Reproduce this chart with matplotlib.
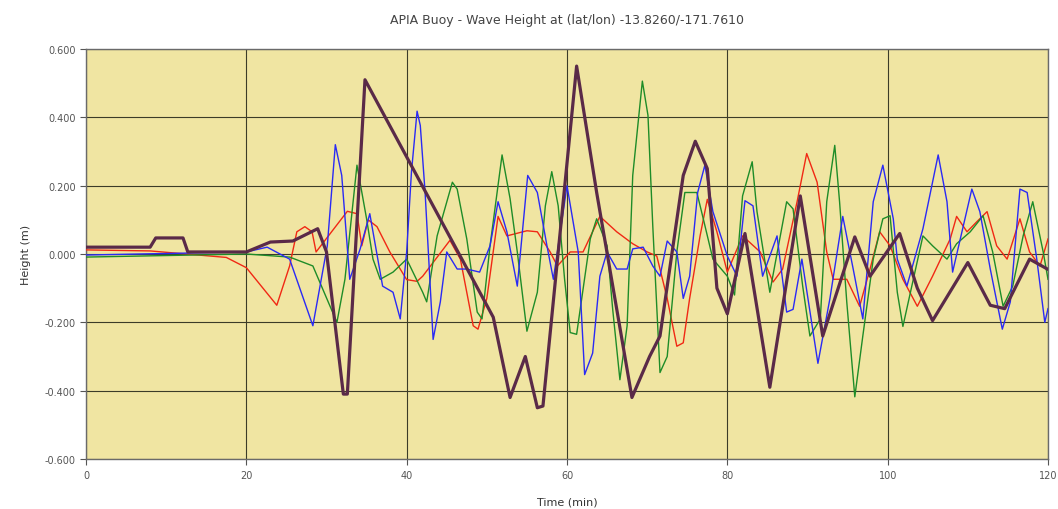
import matplotlib
matplotlib.use("Agg")
import matplotlib.pyplot as plt
from matplotlib.ticker import FormatStrFormatter

title = "APIA Buoy - Wave Height at (lat/lon) -13.8260/-171.7610"
x_label = "Time (min)"
y_label = "Height (m)"
x_ticks = [0, 20, 40, 60, 80, 100, 120]
y_ticks = [-0.6, -0.4, -0.2, 0.0, 0.2, 0.4, 0.6]

purple_t = [0, 8.0, 8.7, 12.1, 12.7, 20, 23, 25.8, 28.9, 30, 32.1, 32.6, 34.8, 50.8, 52.9, 54.8,
            56.3, 57.0, 61.2, 63.7, 68.1, 70.3, 71.6, 74.5, 76.0, 77.5, 78.7, 80.0, 82.2, 85.3,
            89.1, 91.9, 95.9, 97.8, 99.9, 101.5, 103.7, 105.6, 107.8, 110.0, 112.8, 114.6, 117.7, 120]
purple_h = [0.02, 0.02, 0.047, 0.047, 0.006, 0.006, 0.035, 0.038, 0.074, 0.006, -0.41, -0.41, 0.51,
            -0.185, -0.42, -0.30, -0.45, -0.445, 0.55, 0.18, -0.42, -0.30, -0.24, 0.23, 0.33, 0.25,
            -0.10, -0.175, 0.06, -0.39, 0.17, -0.24, 0.05, -0.065, 0.006, 0.06, -0.10, -0.195, -0.11,
            -0.025, -0.15, -0.16, -0.015, -0.045]

red_t = [0, 8, 17.5, 20, 23.8, 25.4, 26.3, 27.3, 28.2, 28.7, 32.6, 33.8, 34.4, 35.2, 36.3, 37.9,
         40.0, 41.3, 42.0, 45.4, 46.7, 48.3, 48.9, 50.0, 51.4, 52.5, 55.0, 56.3, 57.9, 58.8, 60.4,
         62.0, 64.1, 66.2, 68.2, 70.0, 71.2, 72.5, 73.7, 74.5, 75.3, 76.6, 77.5, 78.7, 80.0, 81.9,
         84.1, 85.7, 86.9, 88.7, 89.9, 91.2, 92.4, 93.2, 94.9, 96.5, 97.8, 99.0, 100.3, 101.9,
         103.7, 105.6, 107.8, 108.6, 109.9, 111.1, 112.4, 113.6, 114.9, 116.5, 117.7, 119.0, 120]
red_h = [0.012, 0.009, -0.01, -0.04, -0.15, -0.035, 0.065, 0.08, 0.065, 0.006, 0.125, 0.118, 0.024,
         0.10, 0.08, 0.006, -0.075, -0.08, -0.065, 0.04, -0.015, -0.21, -0.22, -0.13, 0.11, 0.053,
         0.068, 0.065, 0.006, -0.035, 0.006, 0.006, 0.11, 0.065, 0.03, 0.006, -0.006, -0.13, -0.27,
         -0.26, -0.13, 0.053, 0.16, 0.065, -0.053, 0.053, 0.006, -0.082, -0.044, 0.153, 0.294, 0.21,
         0.006, -0.074, -0.074, -0.153, -0.044, 0.065, 0.024, -0.074, -0.153, -0.065, 0.044, 0.11,
         0.065, 0.094, 0.124, 0.024, -0.015, 0.103, 0.006, -0.035, 0.044]

blue_t = [0, 20, 22.6, 25.4, 28.3, 30.1, 31.1, 31.9, 32.9, 34.2, 35.4, 36.4, 37.0, 38.3, 39.2, 40.0,
          40.6, 41.3, 41.7, 42.3, 43.3, 44.2, 45.0, 46.3, 47.5, 49.1, 50.4, 51.4, 52.5, 53.8, 55.1,
          56.3, 57.5, 58.3, 60.0, 60.7, 61.4, 62.2, 63.2, 64.1, 65.0, 66.2, 67.5, 68.2, 69.5, 70.7,
          71.6, 72.5, 73.7, 74.5, 75.3, 76.3, 77.2, 78.2, 80.0, 81.2, 82.2, 83.2, 84.4, 86.2, 87.4,
          88.2, 89.3, 91.3, 92.8, 94.4, 95.7, 96.9, 98.2, 99.4, 100.7, 101.2, 102.4, 104.4, 106.3,
          107.4, 108.1, 110.5, 111.5, 112.8, 114.3, 115.3, 116.5, 117.4, 118.6, 119.6, 120]
blue_h = [-0.003, 0.006, 0.02, -0.015, -0.21, 0.024, 0.32, 0.23, -0.074, 0.015, 0.118, -0.015,
          -0.094, -0.112, -0.19, 0.006, 0.241, 0.418, 0.376, 0.18, -0.25, -0.14, 0.006, -0.044,
          -0.044, -0.053, 0.024, 0.153, 0.065, -0.094, 0.23, 0.18, 0.024, -0.074, 0.2, 0.103, 0.006,
          -0.353, -0.29, -0.065, 0.006, -0.044, -0.044, 0.015, 0.02, -0.035, -0.065, 0.038, 0.006,
          -0.13, -0.065, 0.18, 0.26, 0.124, -0.006, -0.065, 0.156, 0.141, -0.065, 0.053, -0.17,
          -0.162, -0.015, -0.32, -0.13, 0.11, -0.044, -0.19, 0.153, 0.26, 0.103, -0.015, -0.094,
          0.074, 0.29, 0.153, -0.053, 0.19, 0.124, -0.044, -0.22, -0.14, 0.19, 0.18, -0.015, -0.2,
          -0.16]

green_t = [0, 20, 25.4, 28.3, 31.3, 32.3, 33.8, 35.0, 35.8, 36.7, 38.3, 40.0, 42.0, 42.5, 43.8,
           45.7, 46.3, 47.5, 48.8, 49.4, 50.4, 51.9, 52.9, 53.8, 55.0, 56.3, 57.3, 58.1, 58.9, 59.7,
           60.4, 61.2, 62.9, 63.7, 65.0, 65.7, 66.6, 67.5, 68.2, 69.4, 70.1, 70.7, 71.6, 72.5, 73.7,
           74.7, 76.2, 77.0, 78.2, 80.0, 80.9, 81.9, 83.1, 83.7, 85.3, 87.4, 88.2, 89.4, 90.3, 91.6,
           92.4, 93.4, 94.0, 94.9, 95.9, 96.9, 98.2, 99.4, 100.3, 101.2, 101.9, 103.2, 104.4, 105.6,
           107.4, 108.6, 110.3, 111.9, 113.1, 114.4, 115.6, 116.9, 118.1, 119.4, 120]
green_h = [-0.009, 0.0, -0.009, -0.035, -0.2, -0.074, 0.26, 0.103, -0.015, -0.074, -0.053, -0.015,
           -0.112, -0.14, 0.053, 0.21, 0.19, 0.044, -0.17, -0.19, 0.024, 0.29, 0.162, 0.006, -0.226,
           -0.112, 0.141, 0.241, 0.141, -0.074, -0.23, -0.235, 0.044, 0.103, 0.024, -0.162, -0.368,
           -0.21, 0.23, 0.506, 0.406, 0.082, -0.347, -0.3, 0.006, 0.18, 0.18, 0.103, -0.015, -0.065,
           -0.12, 0.17, 0.27, 0.124, -0.112, 0.153, 0.132, -0.094, -0.24, -0.19, 0.153, 0.318, 0.153,
           -0.141, -0.418, -0.24, -0.015, 0.103, 0.112, -0.112, -0.212, -0.074, 0.053, 0.024, -0.015,
           0.03, 0.065, 0.112, 0.006, -0.153, -0.094, 0.053, 0.153, 0.006, -0.074]

fig = plt.figure(figsize=(10.58, 5.10), dpi=100)
ax = fig.add_axes([86 / 1058, 1 - 460 / 510, (1048 - 86) / 1058, (460 - 50) / 510])
ax.set_facecolor("#F0E5A2")

ax.plot(red_t, red_h, color="#F02814", lw=1.0, zorder=3)
ax.plot(green_t, green_h, color="#1E8C28", lw=1.0, zorder=3)
ax.plot(blue_t, blue_h, color="#2A2AF5", lw=1.0, zorder=4)
ax.plot(purple_t, purple_h, color="#5A2A48", lw=2.3, zorder=5)

ax.set_xlim(0, 120)
ax.set_ylim(-0.6, 0.6)
ax.set_xticks(x_ticks)
ax.set_yticks(y_ticks)
ax.yaxis.set_major_formatter(FormatStrFormatter("%.3f"))
ax.grid(True, color="#3C3C28", lw=0.8, zorder=1)
ax.set_axisbelow(True)
for s in ax.spines.values():
    s.set_color("#6A6A6A")
    s.set_linewidth(1.0)
ax.tick_params(axis="both", labelsize=7, colors="#555555", length=4, width=0.8)
ax.tick_params(axis="x", pad=4)
ax.set_xlabel(x_label, fontsize=8, color="#333333", labelpad=12)
ax.set_ylabel(y_label, fontsize=8, color="#333333", labelpad=10)
ax.set_title(title, fontsize=9, color="#444444", pad=19)

fig.savefig("out.png", dpi=100, facecolor="white")
